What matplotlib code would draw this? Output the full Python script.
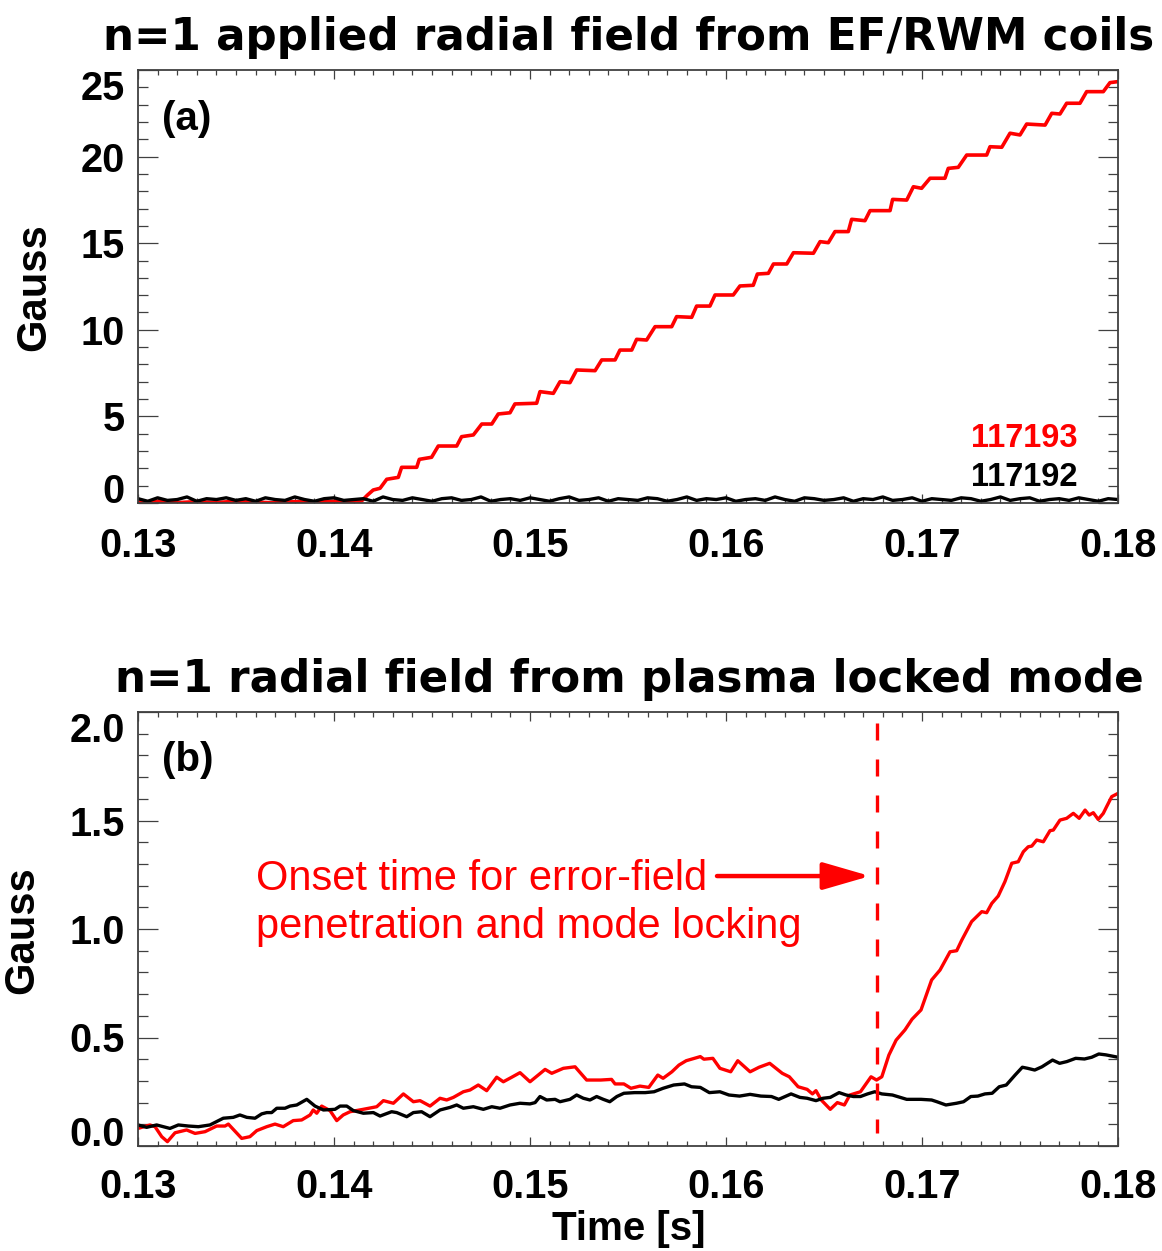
import numpy as np
import matplotlib
matplotlib.use('Agg')
import matplotlib.pyplot as plt

plt.rcParams['font.family'] = ['Liberation Sans', 'DejaVu Sans']
plt.rcParams['font.weight'] = 'bold'

W, H = 1162, 1251

# ---- panel (a): applied n=1 radial field, shot 117193 (red) and 117192 (black)
t_a_red = [0.1300, 0.1310, 0.1320, 0.1330, 0.1340, 0.1350, 0.1360, 0.1370, 0.1380,
           0.1390, 0.1400, 0.1408, 0.14141, 0.1417, 0.14200, 0.14235, 0.14269, 0.14328,
           0.14345, 0.14422, 0.14435, 0.14498, 0.14532, 0.14626, 0.14651, 0.14711,
           0.14754, 0.14805, 0.14838, 0.14898, 0.14923, 0.15034, 0.15051, 0.15119,
           0.15153, 0.15204, 0.15238, 0.15332, 0.15366, 0.15434, 0.15459, 0.15519,
           0.15544, 0.15595, 0.15638, 0.15723, 0.15748, 0.15825, 0.15850, 0.15918,
           0.15944, 0.16037, 0.16071, 0.16139, 0.16160, 0.16216, 0.16242, 0.16310,
           0.16344, 0.16446, 0.16480, 0.16522, 0.16556, 0.16624, 0.16641, 0.16709,
           0.16735, 0.16837, 0.16850, 0.16922, 0.16956, 0.16998, 0.17041, 0.17117,
           0.17134, 0.17185, 0.17228, 0.17330, 0.17347, 0.17407, 0.17449, 0.17500,
           0.17534, 0.17628, 0.17662, 0.17704, 0.17738, 0.17806, 0.17840, 0.17925,
           0.17959, 0.18000]
b_a_red = [0.05, 0.10, 0.02, 0.08, 0.03, 0.10, 0.05, 0.01, 0.08,
           0.04, 0.10, 0.05, 0.12, 0.45, 0.75, 0.85, 1.37, 1.48,
           2.06, 2.06, 2.52, 2.64, 3.29, 3.29, 3.83, 3.93,
           4.56, 4.56, 5.14, 5.21, 5.72, 5.76, 6.43, 6.33,
           7.00, 6.95, 7.68, 7.64, 8.26, 8.26, 8.83, 8.83,
           9.45, 9.41, 10.18, 10.18, 10.76, 10.72, 11.37, 11.37,
           12.01, 12.01, 12.53, 12.57, 13.22, 13.26, 13.80, 13.80,
           14.45, 14.42, 15.09, 15.03, 15.67, 15.67, 16.38, 16.30,
           16.88, 16.88, 17.53, 17.49, 18.26, 18.17, 18.75, 18.75,
           19.32, 19.38, 20.09, 20.09, 20.57, 20.54, 21.35, 21.25,
           21.88, 21.82, 22.50, 22.46, 23.08, 23.08, 23.75, 23.75,
           24.27, 24.33]

t_a_black = np.arange(0.1300, 0.18001, 0.0005)
b_a_black = [0.25, 0.10, 0.30, 0.15, 0.20, 0.35, 0.10, 0.25, 0.20, 0.30,
             0.15, 0.25, 0.10, 0.30, 0.20, 0.15, 0.35, 0.20, 0.10, 0.25,
             0.30, 0.15, 0.20, 0.25, 0.10, 0.35, 0.20, 0.15, 0.30, 0.20,
             0.10, 0.25, 0.30, 0.15, 0.20, 0.35, 0.10, 0.20, 0.25, 0.15,
             0.30, 0.20, 0.10, 0.25, 0.35, 0.15, 0.20, 0.30, 0.10, 0.25,
             0.20, 0.15, 0.30, 0.25, 0.10, 0.20, 0.35, 0.15, 0.25, 0.20,
             0.30, 0.10, 0.20, 0.25, 0.15, 0.35, 0.20, 0.10, 0.30, 0.25,
             0.15, 0.20, 0.30, 0.10, 0.25, 0.20, 0.35, 0.15, 0.20, 0.30,
             0.10, 0.25, 0.20, 0.15, 0.30, 0.25, 0.10, 0.20, 0.35, 0.15,
             0.25, 0.30, 0.10, 0.20, 0.25, 0.15, 0.30, 0.20, 0.10, 0.25,
             0.20]

# ---- panel (b): n=1 radial field from the locked mode
t_b_red = [0.13000, 0.13061, 0.13087, 0.13121, 0.13150, 0.13189, 0.13248, 0.13291,
           0.13342, 0.13401, 0.13444, 0.13461, 0.13529, 0.13571, 0.13606, 0.13657,
           0.13699, 0.13741, 0.13792, 0.13835, 0.13878, 0.13894, 0.13912, 0.13937,
           0.13980, 0.14014, 0.14047, 0.14082, 0.14149, 0.14218, 0.14252, 0.14303,
           0.14354, 0.14405, 0.14439, 0.14490, 0.14541, 0.14575, 0.14609, 0.14660,
           0.14694, 0.14736, 0.14779, 0.14830, 0.14864, 0.14907, 0.14949, 0.15000,
           0.15042, 0.15077, 0.15111, 0.15170, 0.15230, 0.15289, 0.15361, 0.15416,
           0.15434, 0.15479, 0.15515, 0.15561, 0.15606, 0.15652, 0.15679, 0.15724,
           0.15760, 0.15797, 0.15869, 0.15887, 0.15933, 0.15969, 0.16024, 0.16060,
           0.16123, 0.16169, 0.16223, 0.16287, 0.16323, 0.16368, 0.16414, 0.16441,
           0.16459, 0.16486, 0.16532, 0.16568, 0.16604, 0.16632, 0.16686, 0.16740,
           0.16768, 0.16795, 0.16831, 0.16868, 0.16913, 0.16949, 0.16995, 0.17049,
           0.17092, 0.17143, 0.17177, 0.17203, 0.17253, 0.17305, 0.17330, 0.17356,
           0.17389, 0.17423, 0.17458, 0.17491, 0.17517, 0.17542, 0.17560, 0.17585,
           0.17619, 0.17653, 0.17670, 0.17704, 0.17738, 0.17772, 0.17802, 0.17832,
           0.17853, 0.17874, 0.17899, 0.17925, 0.17942, 0.17968, 0.18000]
b_b_red = [0.081, 0.097, 0.089, 0.043, 0.020, 0.061, 0.074, 0.058,
           0.066, 0.092, 0.092, 0.101, 0.035, 0.043, 0.071, 0.089,
           0.101, 0.089, 0.117, 0.120, 0.143, 0.166, 0.151, 0.184,
           0.163, 0.117, 0.143, 0.158, 0.169, 0.181, 0.209, 0.197,
           0.240, 0.204, 0.209, 0.184, 0.220, 0.212, 0.224, 0.250,
           0.258, 0.281, 0.255, 0.317, 0.296, 0.317, 0.338, 0.296,
           0.327, 0.353, 0.335, 0.358, 0.365, 0.304, 0.304, 0.307,
           0.286, 0.286, 0.266, 0.276, 0.270, 0.327, 0.312, 0.342,
           0.373, 0.393, 0.412, 0.400, 0.404, 0.358, 0.342, 0.393,
           0.342, 0.363, 0.381, 0.335, 0.319, 0.273, 0.261, 0.240,
           0.255, 0.212, 0.169, 0.200, 0.189, 0.235, 0.250, 0.319,
           0.304, 0.319, 0.419, 0.488, 0.535, 0.584, 0.627, 0.765,
           0.811, 0.895, 0.900, 0.949, 1.034, 1.080, 1.075, 1.118,
           1.152, 1.218, 1.303, 1.310, 1.356, 1.379, 1.382, 1.410,
           1.402, 1.453, 1.456, 1.502, 1.510, 1.533, 1.510, 1.548,
           1.525, 1.536, 1.505, 1.533, 1.564, 1.610, 1.625]

t_b_black = [0.13000, 0.13044, 0.13095, 0.13163, 0.13206, 0.13257, 0.13308, 0.13367,
             0.13435, 0.13486, 0.13520, 0.13555, 0.13597, 0.13631, 0.13657, 0.13682,
             0.13708, 0.13750, 0.13776, 0.13810, 0.13861, 0.13903, 0.13946, 0.14005,
             0.14031, 0.14065, 0.14099, 0.14150, 0.14201, 0.14235, 0.14294, 0.14320,
             0.14371, 0.14405, 0.14447, 0.14490, 0.14541, 0.14592, 0.14626, 0.14660,
             0.14711, 0.14762, 0.14805, 0.14847, 0.14898, 0.14949, 0.15000, 0.15026,
             0.15051, 0.15085, 0.15128, 0.15153, 0.15204, 0.15238, 0.15272, 0.15306,
             0.15340, 0.15374, 0.15407, 0.15443, 0.15479, 0.15534, 0.15588, 0.15633,
             0.15679, 0.15733, 0.15788, 0.15824, 0.15869, 0.15915, 0.15969, 0.16015,
             0.16069, 0.16123, 0.16178, 0.16232, 0.16269, 0.16332, 0.16377, 0.16414,
             0.16459, 0.16495, 0.16532, 0.16577, 0.16613, 0.16650, 0.16686, 0.16722,
             0.16759, 0.16795, 0.16849, 0.16922, 0.16995, 0.17049, 0.17076, 0.17122,
             0.17176, 0.17212, 0.17249, 0.17285, 0.17321, 0.17358, 0.17394, 0.17430,
             0.17475, 0.17512, 0.17539, 0.17575, 0.17612, 0.17666, 0.17702, 0.17739,
             0.17784, 0.17829, 0.17866, 0.17902, 0.17938, 0.18000]
b_b_black = [0.097, 0.086, 0.097, 0.081, 0.097, 0.092, 0.089, 0.097,
             0.128, 0.132, 0.143, 0.132, 0.128, 0.148, 0.154, 0.154,
             0.174, 0.174, 0.184, 0.189, 0.215, 0.184, 0.166, 0.169,
             0.184, 0.184, 0.163, 0.151, 0.154, 0.138, 0.158, 0.154,
             0.135, 0.154, 0.158, 0.135, 0.166, 0.178, 0.189, 0.174,
             0.181, 0.169, 0.181, 0.174, 0.189, 0.197, 0.194, 0.200,
             0.228, 0.212, 0.215, 0.204, 0.215, 0.235, 0.220, 0.212,
             0.228, 0.215, 0.204, 0.228, 0.243, 0.246, 0.246, 0.250,
             0.266, 0.281, 0.286, 0.273, 0.270, 0.246, 0.250, 0.235,
             0.230, 0.238, 0.230, 0.228, 0.215, 0.240, 0.224, 0.220,
             0.209, 0.220, 0.224, 0.246, 0.235, 0.228, 0.228, 0.240,
             0.250, 0.240, 0.235, 0.215, 0.215, 0.212, 0.204, 0.189,
             0.197, 0.204, 0.228, 0.230, 0.240, 0.243, 0.273, 0.281,
             0.327, 0.363, 0.358, 0.350, 0.365, 0.396, 0.381, 0.389,
             0.404, 0.401, 0.409, 0.424, 0.420, 0.409]

t_onset = 0.1677
xticks = [0.13, 0.14, 0.15, 0.16, 0.17, 0.18]
xticklabels = ['0.13', '0.14', '0.15', '0.16', '0.17', '0.18']

spine_col = '#404040'


def style_axes(ax, yticks, ylabels, yminor, ylim, xpad):
    ax.set_xlim(0.13, 0.18)
    ax.set_ylim(*ylim)
    ax.set_xticks(xticks, xticklabels)
    ax.set_xticks(np.arange(0.13, 0.1801, 0.001), minor=True)
    ax.set_yticks(yticks, ylabels)
    ax.set_yticks(yminor, minor=True)
    for s in ax.spines.values():
        s.set_color(spine_col)
        s.set_linewidth(1.3)
    ax.tick_params(which='both', direction='in', top=True, right=True,
                   color=spine_col, width=0.9, labelsize=28.5)
    ax.tick_params(axis='x', which='major', length=6.5, pad=xpad)
    ax.tick_params(axis='x', which='minor', length=3.6)
    ax.tick_params(axis='y', which='major', length=14.4, pad=9.5)
    ax.tick_params(axis='y', which='minor', length=7.2)
    yt = ax.yaxis.get_major_ticks()
    yt[0].label1.set_va('baseline')
    yt[-1].label1.set_va('top')


fig = plt.figure(figsize=(W / 100, H / 100), dpi=100)
ax1 = fig.add_axes([138 / W, 1 - 503 / H, 980 / W, 433 / H])
ax2 = fig.add_axes([138 / W, 1 - 1146 / H, 980 / W, 434 / H])

# panel (a)
ax1.plot(t_a_red, b_a_red, color='red', lw=2.6)
ax1.plot(t_a_black, b_a_black, color='black', lw=2.4)
style_axes(ax1, [0, 5, 10, 15, 20, 25], ['0', '5', '10', '15', '20', '25'],
           np.arange(0, 25.1, 1), (0, 25), 17)
ax1.text(0.0245, 0.887, '(a)', transform=ax1.transAxes, fontsize=29,
         ha='left', va='center')
ax1.text(0.959, 0.148, '117193', transform=ax1.transAxes, fontsize=23.5,
         color='red', ha='right', va='center')
ax1.text(0.959, 0.060, '117192', transform=ax1.transAxes, fontsize=23.5,
         color='black', ha='right', va='center')

# panel (b)
ax2.plot(t_b_red, b_b_red, color='red', lw=2.4)
ax2.plot(t_b_black, b_b_black, color='black', lw=2.4)
ax2.plot([t_onset, t_onset], [1.95, 0.06], color='red', lw=2.4,
         dashes=(5.1, 5.7))
style_axes(ax2, [0, 0.5, 1.0, 1.5, 2.0], ['0.0', '0.5', '1.0', '1.5', '2.0'],
           np.arange(0, 2.01, 0.1), (0, 2.0), 15.5)
ax2.text(0.0245, 0.889, '(b)', transform=ax2.transAxes, fontsize=29,
         ha='left', va='center')
ax2.text(0.1204, (1146 - 890) / 434, 'Onset time for error-field',
         transform=ax2.transAxes, fontsize=30, fontweight='normal',
         color='red', ha='left', va='baseline')
ax2.text(0.1204, (1146 - 938) / 434, 'penetration and mode locking',
         transform=ax2.transAxes, fontsize=30, fontweight='normal',
         color='red', ha='left', va='baseline')
ax2.annotate('', xy=(0.16735, 1.244), xytext=(0.15954, 1.244),
             arrowprops=dict(arrowstyle='-|>,head_length=1.45,head_width=0.42',
                             color='red', lw=3.2, mutation_scale=20,
                             shrinkA=0, shrinkB=0))

# titles and axis labels
fig.text(628.5 / W, 1 - 50 / H, 'n=1 applied radial field from EF/RWM coils',
         family='DejaVu Sans', fontsize=31.4, ha='center', va='baseline')
fig.text(629 / W, 1 - 692 / H, 'n=1 radial field from plasma locked mode',
         family='DejaVu Sans', fontsize=31.4, ha='center', va='baseline')
fig.text(34 / W, 1 - 287 / H, 'Gauss', fontsize=30, rotation=90,
         ha='center', va='center')
fig.text(22.5 / W, 1 - 930 / H, 'Gauss', fontsize=30, rotation=90,
         ha='center', va='center')
fig.text(628.5 / W, 1 - 1240 / H, 'Time [s]', fontsize=29,
         ha='center', va='baseline')

fig.savefig('out.png', dpi=100)
